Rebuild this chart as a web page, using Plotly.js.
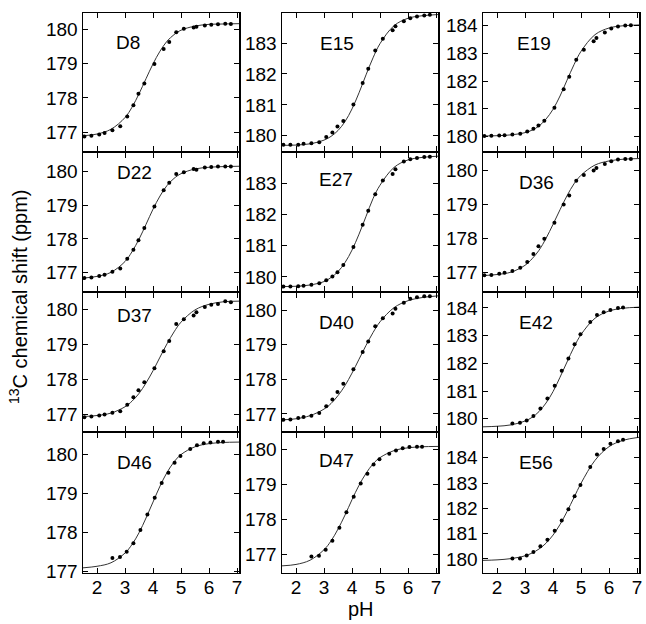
<!DOCTYPE html>
<html><head><meta charset="utf-8">
<script src="https://cdn.plot.ly/plotly-3.0.1.min.js"></script>
<style>html,body{margin:0;padding:0;background:#fff}#chart{width:646px;height:624px}</style>
</head><body><div id="chart"></div>
<script>
// ---------- DATA ----------
const panelNames = ['D8','E15','E19','D22','E27','D36','D37','D40','E42','D46','D47','E56'];
const phLong  = [1.55,1.8,2.08,2.27,2.55,2.83,3.08,3.3,3.48,3.69,4.05,4.38,4.58,4.83,5.1,5.45,5.55,5.85,6.08,6.32,6.58,6.78];
const phShort = [2.55,2.82,3.06,3.3,3.55,3.8,4.06,4.31,4.55,4.77,4.98,5.33,5.57,5.81,6.05,6.32,6.5];
const phFit   = [1.5,2,2.5,3,3.25,3.5,3.75,4,4.25,4.5,4.75,5,5.5,6,6.5,7.07];

const d8Shift  = [176.88,176.90,176.94,176.98,177.06,177.18,177.46,177.79,178.12,178.42,178.99,179.42,179.63,179.91,180.01,180.05,180.07,180.11,180.13,180.14,180.16,180.15];
const e15Shift = [179.71,179.71,179.71,179.74,179.76,179.79,179.96,180.11,180.30,180.48,181.01,181.71,182.17,182.76,183.14,183.41,183.54,183.70,183.80,183.86,183.89,183.91];
const e19Shift = [180.02,180.03,180.04,180.05,180.07,180.10,180.18,180.28,180.40,180.57,181.04,181.70,182.15,182.77,183.13,183.43,183.55,183.75,183.89,183.96,184.00,184.01];
const d22Shift = [176.84,176.86,176.90,176.94,177.03,177.12,177.41,177.68,177.96,178.32,178.96,179.44,179.66,179.92,179.97,180.07,180.05,180.11,180.13,180.14,180.14,180.14];
const e27Shift = [179.69,179.69,179.70,179.72,179.75,179.80,179.89,180.01,180.15,180.38,180.96,181.67,182.12,182.65,183.09,183.30,183.45,183.70,183.77,183.81,183.84,183.85];
const d36Shift = [176.93,176.94,176.97,177.00,177.05,177.15,177.32,177.55,177.78,178.00,178.47,179.00,179.27,179.70,179.87,180.00,180.07,180.19,180.27,180.32,180.34,180.34];
const d37Shift = [176.92,176.94,176.97,177.00,177.05,177.09,177.28,177.49,177.69,177.92,178.32,178.81,179.10,179.59,179.72,179.83,179.92,180.07,180.14,180.16,180.24,180.21];
const d40Shift = [176.83,176.84,176.88,176.91,176.95,177.03,177.22,177.42,177.63,177.87,178.29,178.79,179.09,179.53,179.76,179.90,180.04,180.21,180.33,180.37,180.40,180.40];
const e42Shift = [179.83,179.86,179.94,180.10,180.37,180.73,181.19,181.73,182.18,182.69,183.05,183.49,183.75,183.85,183.93,184.00,184.02];
const d46Shift = [177.34,177.37,177.50,177.72,178.06,178.46,178.89,179.27,179.53,179.79,179.96,180.14,180.24,180.29,180.31,180.33,180.33];
const d47Shift = [176.95,176.97,177.14,177.40,177.77,178.21,178.65,179.03,179.31,179.57,179.72,179.88,179.97,180.04,180.07,180.08,180.08];
const e56Shift = [180.01,180.01,180.13,180.27,180.50,180.76,181.11,181.52,181.96,182.48,182.92,183.63,184.13,184.35,184.55,184.65,184.71];

const d8Fit  = [176.90,176.95,177.09,177.43,177.73,178.12,178.56,178.99,179.36,179.65,179.84,179.97,180.09,180.14,180.15,180.16];
const e15Fit = [179.69,179.70,179.74,179.86,179.98,180.17,180.46,180.87,181.39,181.97,182.52,182.98,183.56,183.80,183.88,183.92];
const e19Fit = [180.02,180.03,180.06,180.14,180.23,180.38,180.63,180.98,181.46,182.03,182.59,183.07,183.67,183.91,183.99,184.02];
const d22Fit = [176.84,176.89,177.01,177.33,177.62,177.99,178.43,178.88,179.27,179.58,179.79,179.93,180.07,180.12,180.14,180.15];
const e27Fit = [179.69,179.70,179.74,179.85,179.98,180.17,180.46,180.86,181.37,181.94,182.51,182.94,183.51,183.75,183.83,183.87];
const d36Fit = [176.92,176.95,177.02,177.22,177.41,177.66,178.01,178.42,178.85,179.26,179.61,179.86,180.16,180.28,180.33,180.35];
const d37Fit = [176.94,176.97,177.04,177.22,177.38,177.60,177.90,178.25,178.64,179.02,179.36,179.64,179.99,180.15,180.22,180.24];
const d40Fit = [176.83,176.86,176.95,177.14,177.30,177.53,177.82,178.18,178.58,178.98,179.35,179.66,180.07,180.27,180.36,180.41];
const e42Fit = [179.71,179.73,179.78,179.92,180.05,180.26,180.57,180.98,181.50,182.05,182.59,183.04,183.63,183.89,183.99,184.03];
const d46Fit = [177.09,177.13,177.22,177.47,177.69,177.99,178.37,178.78,179.19,179.54,179.81,180.00,180.20,180.28,180.31,180.32];
const d47Fit = [176.68,176.72,176.84,177.14,177.39,177.73,178.13,178.57,178.98,179.32,179.59,179.77,179.97,180.05,180.08,180.09];
const e56Fit = [179.94,179.96,180.01,180.12,180.23,180.39,180.62,180.94,181.36,181.87,182.43,182.99,183.90,184.44,184.69,184.81];

const xTicks = [2,3,4,5,6,7];

// ---------- PANELS ----------
const shiftData = [d8Shift,e15Shift,e19Shift,d22Shift,e27Shift,d36Shift,d37Shift,d40Shift,e42Shift,d46Shift,d47Shift,e56Shift];
const fitData   = [d8Fit,e15Fit,e19Fit,d22Fit,e27Fit,d36Fit,d37Fit,d40Fit,e42Fit,d46Fit,d47Fit,e56Fit];
const phData    = [phLong,phLong,phLong,phLong,phLong,phLong,phLong,phLong,phShort,phShort,phShort,phShort];

// layout / style
const W = 646, H = 624, LW = 1.5;
const colPx = [[83,239],[282,438],[483,639]];
// row boxes; adjacent rows offset by the line width so the shared borders coincide
const rowPx = [[13,151.25],[152.75,291.25],[292.75,431.25],[432.75,572.5]];
const yRanges = [[176.45,180.47],[179.5,183.97],[179.47,184.45],
                 [176.45,180.55],[179.54,183.98],[176.46,180.52],
                 [176.52,180.48],[176.5,180.5],[179.55,184.55],
                 [176.97,180.56],[176.49,180.48],[179.46,184.99]];
const labelPx = [[114,43],[318,44],[515,44],
                 [115,172],[317,180],[517,182],
                 [115,315],[317,322],[517,322],
                 [115,462],[317,460],[517,462]];

const FONT = 'Liberation Sans, Arial, Helvetica, sans-serif';
const traces = [];
const layout = {
  width: W, height: H,
  margin: {l:0, r:0, t:0, b:0},
  paper_bgcolor: '#fff', plot_bgcolor: '#fff',
  showlegend: false,
  font: {family: FONT, color: '#000', size: 19},
  annotations: []
};

panelNames.forEach((name, i) => {
  const r = Math.floor(i/3), c = i % 3;
  const k = i === 0 ? '' : String(i+1);
  const xa = 'x' + k, ya = 'y' + k;
  traces.push({
    x: phFit, y: fitData[i], xaxis: xa, yaxis: ya,
    mode: 'lines', line: {color: '#333', width: 1, shape: 'spline', smoothing: 1},
    hoverinfo: 'skip'
  });
  traces.push({
    x: phData[i], y: shiftData[i], xaxis: xa, yaxis: ya,
    mode: 'markers', marker: {color: '#000', size: 4},
    name: name
  });
  const axCommon = {
    showline: true, linecolor: '#000', linewidth: LW, mirror: 'allticks',
    ticks: 'inside', ticklen: 5, tickwidth: 1, tickcolor: '#000',
    showgrid: false, zeroline: false, fixedrange: true,
    tickfont: {family: FONT, size: 19, color: '#000'}
  };
  layout['xaxis' + k] = Object.assign({}, axCommon, {
    domain: [colPx[c][0]/W, colPx[c][1]/W],
    range: [1.5, 7.07], anchor: ya,
    tickmode: 'array', tickvals: xTicks, ticktext: xTicks.map(String),
    showticklabels: r === 3, ticklabelstandoff: -3
  });
  layout['yaxis' + k] = Object.assign({}, axCommon, {
    domain: [1 - rowPx[r][1]/H, 1 - rowPx[r][0]/H],
    range: yRanges[i], anchor: xa,
    dtick: 1, tick0: 0, tickformat: 'd'
  });
  layout.annotations.push({
    xref: 'paper', yref: 'paper', x: labelPx[i][0]/W, y: 1 - labelPx[i][1]/H,
    xanchor: 'left', yanchor: 'middle', showarrow: false,
    text: name, font: {family: FONT, size: 19, color: '#000'}
  });
});

layout.annotations.push({
  xref: 'paper', yref: 'paper', x: 18/W, y: 1 - 297/H,
  xanchor: 'center', yanchor: 'middle', showarrow: false, textangle: -90,
  text: '<sup>13</sup>C chemical shift (ppm)', font: {family: FONT, size: 20, color: '#000'}
});
layout.annotations.push({
  xref: 'paper', yref: 'paper', x: 361/W, y: 1 - 609/H,
  xanchor: 'center', yanchor: 'middle', showarrow: false,
  text: 'pH', font: {family: FONT, size: 20, color: '#000'}
});

Plotly.newPlot('chart', traces, layout, {staticPlot: true, displayModeBar: false});
</script>
</body></html>
